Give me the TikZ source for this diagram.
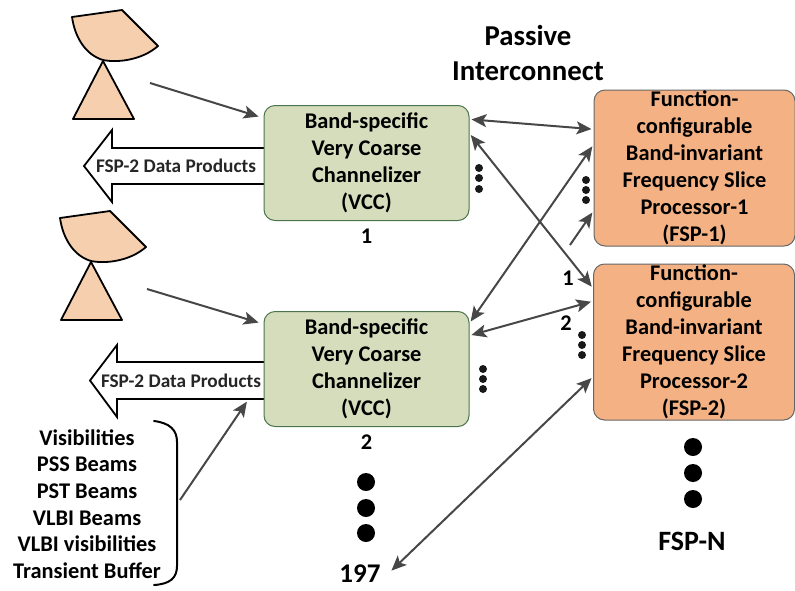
\documentclass[tikz,border=0pt]{standalone}
\usepackage{fontspec}
\setmainfont{Carlito}[BoldFont=Carlito Bold]
\usetikzlibrary{arrows.meta,positioning}

\begin{document}
\begin{tikzpicture}[x=1pt,y=-1pt,>={Stealth[length=15pt,width=13pt,inset=3.5pt]},
                    main text/.style={font=\fontsize{22.4}{27}\selectfont\bfseries,align=center,text=black},
                    vcc box/.style={main text,rectangle,rounded corners=11pt,draw=black!60!green!40!gray,line width=1pt,
                      fill=vccgreen,minimum width=205pt,minimum height=115pt,inner sep=0pt},
                    fsp box/.style={main text,rectangle,rounded corners=11pt,draw=black!60,line width=1pt,
                      fill=fsporange,minimum width=201pt,minimum height=156pt,inner sep=0pt},
                    data arrow/.style={draw=black,fill=white,line width=1.8pt,line join=miter},
                    data text/.style={font=\fontsize{19.3}{20}\selectfont\bfseries,text=black!85,inner sep=0pt},
                    link/.style={<->,draw=black!72,line width=2pt,shorten <=2pt,shorten >=2pt},
                    feed/.style={->,draw=black!72,line width=2pt,shorten >=2pt},
                    big dot/.style={circle,fill=black,inner sep=0pt,minimum size=18pt},
                    small dot/.style={circle,fill=black!90,inner sep=0pt,minimum size=8pt},
                    dish/.style={draw=black,fill=dishpeach,line width=1.8pt,line join=round}]
  \definecolor{vccgreen}{HTML}{D6DDBC}
  \definecolor{fsporange}{HTML}{F4B284}
  \definecolor{dishpeach}{HTML}{F6D0AE}
  \useasboundingbox (0,0) rectangle (795,590);

  % antennas
  \foreach \sx/\sy in {0/0,-12/201} {
    \begin{scope}[shift={(\sx,\sy)}]
      \draw[dish] (72,17) -- (122,10) -- (158,46) .. controls (142,60) and (118,63) .. (103,60)
        .. controls (86,55) and (75,38) .. (72,17) -- cycle;
      \draw[dish] (103,61) -- (73,119) -- (134,119) -- cycle;
    \end{scope}
  }

  % data product arrows go under the boxes
  \draw[data arrow] (84,166) -- (112,130) -- (112,148) -- (268,148) -- (268,184) -- (112,184) -- (112,202) -- cycle;
  \draw[data arrow] (90,380.5) -- (117,345) -- (117,362) -- (268,362) -- (268,399) -- (117,399) -- (117,417) -- cycle;
  \node[data text] (prod1) at (176,166) {FSP-2 Data Products};
  \node[data text] (prod2) at (181,381) {FSP-2 Data Products};

  \node[vcc box] (vcc1) at (366.5,163) {Band-specific\\Very Coarse\\Channelizer\\(VCC)};
  \node[vcc box] (vcc2) [below=90pt of vcc1] {Band-specific\\Very Coarse\\Channelizer\\(VCC)};
  \node[fsp box] (fsp1) at (694.5,168) {Function-\\configurable\\Band-invariant\\Frequency Slice\\Processor-1\\(FSP-1)};
  \node[fsp box] (fsp2) [below=17pt of fsp1,xshift=-0.5pt] {Function-\\configurable\\Band-invariant\\Frequency Slice\\Processor-2\\(FSP-2)};

  \node[main text] (num1) [below=4pt of vcc1] {1};
  \node[main text] (num2) [below=4pt of vcc2] {2};
  \node[main text] (port1) at (568,278) {1};
  \node[main text] (port2) at (566,323) {2};
  \node[font=\fontsize{28.8}{35}\selectfont\bfseries,align=center] (title) at (528,53) {Passive\\Interconnect};
  \node[font=\fontsize{27}{27}\selectfont\bfseries,inner sep=0pt] (last) at (360,574) {197};
  \node[font=\fontsize{28}{30}\selectfont\bfseries] (fspn) at (692,541) {FSP-N};
  \node[font=\fontsize{22.4}{26.7}\selectfont\bfseries,align=center] (list) at (87,504)
    {Visibilities\\PSS Beams\\PST Beams\\VLBI Beams\\VLBI visibilities\\Transient Buffer};

  % dots
  \foreach \y [count=\i] in {482,508,533} \node[big dot] (vdot\i) at (366,\y) {};
  \foreach \y [count=\i] in {447,473,499} \node[big dot] (fdot\i) at (693,\y) {};
  \foreach \y [count=\i] in {168,178,189} \node[small dot] (a\i) at (479,\y) {};
  \foreach \y [count=\i] in {369,379,389} \node[small dot] (b\i) at (483,\y) {};
  \foreach \y [count=\i] in {180,190,200} \node[small dot] (c\i) at (586,\y) {};
  \foreach \y [count=\i] in {335,345,355} \node[small dot] (d\i) at (582,\y) {};

  \coordinate (ant1) at (150,83);
  \coordinate (ant2) at (147,289);
  \coordinate (stub) at (570,245);
  \coordinate (bracetip) at (180,500);
  \coordinate (prodedge) at (248,400);
  \coordinate (lastend) at (390,572);

  % brace
  \draw[line width=2pt,line cap=round] (154,421) .. controls (170,423) and (177,430) .. (177,442)
    -- (177,566) .. controls (177,578) and (170,584) .. (154,585);

  \path[every edge/.append style={feed}]
    (ant1) edge ([xshift=-3pt]vcc1.156)
    (ant2) edge ([xshift=-3pt]vcc2.156)
    (bracetip) edge (prodedge)
    (stub) edge (fsp1.203.6);
  \path[every edge/.append style={link}]
    (vcc1.23.7) edge (fsp1.159.8)
    (vcc1.16.3) edge (fsp2.152)
    (vcc2.24.4) edge (fsp1.167)
    (vcc2.18.1) edge (fsp2.158.9)
    (lastend) edge (fsp2.199);
\end{tikzpicture}
\end{document}
